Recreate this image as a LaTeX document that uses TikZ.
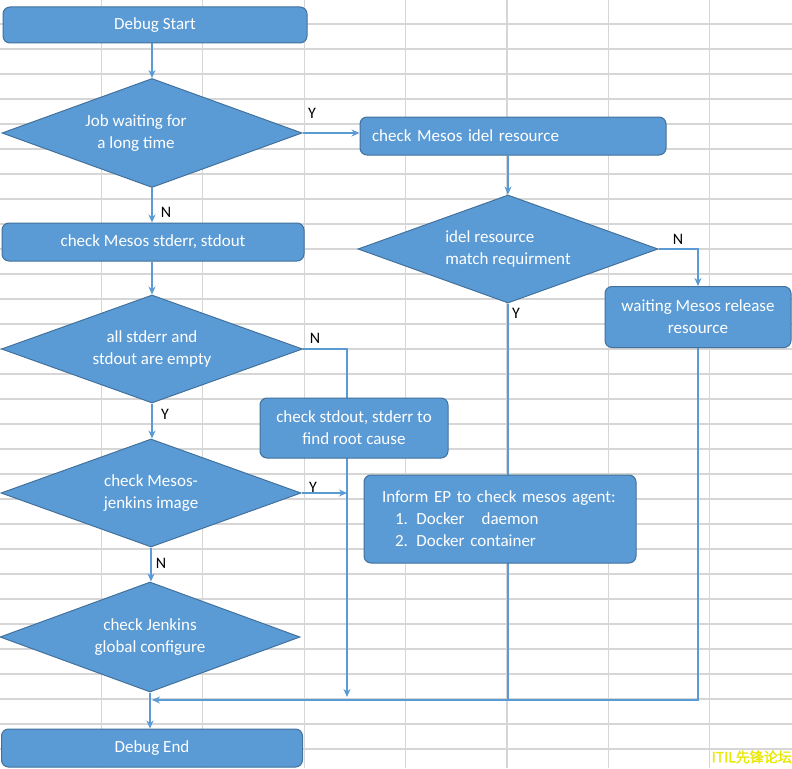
\documentclass[tikz,border=0pt]{standalone}
\usepackage{fontspec}
\setmainfont{Carlito}
\newfontfamily\cjkfont[FakeBold=1.5]{Noto Sans CJK SC}
\usetikzlibrary{shapes.geometric,arrows.meta}
\definecolor{boxfill}{HTML}{5B9BD5}
\definecolor{boxline}{HTML}{41719C}
\definecolor{connc}{HTML}{5B9BD5}
\definecolor{gridc}{HTML}{D6D6D6}
\definecolor{wmyellow}{HTML}{E8E800}
\pgfdeclarelayer{gridl}
\pgfdeclarelayer{connl}
\pgfsetlayers{gridl,connl,main}
\begin{document}
\begin{tikzpicture}[x=1pt,y=-1pt,
  every node/.style={font=\fontsize{17}{22}\selectfont},
  proc/.style={draw=boxline, fill=boxfill, line width=1pt, rounded corners=7pt, text=white, align=center, inner sep=0pt},
  decision/.style={diamond, draw=boxline, fill=boxfill, line width=1pt, text=white, align=center, inner sep=0pt, aspect=2.78},
  dtext/.style={text=white, align=center, inner sep=0pt},
  conn/.style={draw=connc, line width=1.3pt},
  arr/.style={conn, -{Stealth[length=8pt,width=7pt]}},
  yn/.style={text=black, font=\fontsize{16}{19}\selectfont, inner sep=0pt},
  gridline/.style={draw=gridc, line width=1.3pt}
]
\useasboundingbox (0,0) rectangle (792,768);
\begin{pgfonlayer}{gridl}
\fill[white] (0,0) rectangle (792,768);
\foreach \gy in {24,49,...,749} \draw[gridline] (0,\gy) -- (792,\gy);
\foreach \k in {1,...,7} \draw[gridline] ({101.4*\k},0) -- ({101.4*\k},768);
\end{pgfonlayer}

% nodes
\node[proc, minimum width=304pt, minimum height=36pt] (start) at (155,25) {Debug Start};
\node[decision, minimum width=300pt, minimum height=109pt] (d1) at (152,133) {};
\node[dtext] (d1t) at (136,133) {Job waiting for\\a long time};
\node[proc, minimum width=306pt, minimum height=38pt, text width=282pt, align=left] (idle) at (513,136) {check Mesos idel resource};
\node[proc, minimum width=302pt, minimum height=38pt] (logs) at (153,242) {check Mesos stderr, stdout};
\node[decision, minimum width=300pt, minimum height=108pt, align=left] (d2) at (508,249) {idel resource\\match requirment};
\node[proc, minimum width=186pt, minimum height=61pt] (wait) at (698,317) {waiting Mesos release\\resource};
\node[decision, minimum width=301pt, minimum height=108pt] (d3) at (152,349) {all stderr and\\stdout are empty};
\node[proc, minimum width=188pt, minimum height=60pt] (root) at (354,428) {check stdout, stderr to\\find root cause};
\node[decision, minimum width=300pt, minimum height=108pt] (d4) at (151,493) {check Mesos-\\jenkins image};
\node[proc, minimum width=272pt, minimum height=88pt, text width=236pt, align=left] (inform) at (500,519) {Inform EP to check mesos agent:\\\hspace*{13pt}1. Docker\ \ \ daemon\\\hspace*{13pt}2. Docker container};
\node[decision, minimum width=300pt, minimum height=110pt] (d5) at (150,637) {check Jenkins\\global configure};
\node[proc, minimum width=301pt, minimum height=38pt] (end) at (152,748) {Debug End};

\coordinate (nend) at (347,697);
\coordinate (bus) at (152,700);

% connectors
\begin{pgfonlayer}{connl}
\draw[arr] (d1.north |- start.south) -- (d1.north);
\draw[arr] (d1.east) -- (d1.east -| idle.west);
\draw[arr] (d1.south) -- (d1.south |- logs.north);
\draw[arr] (d3.north |- logs.south) -- (d3.north);
\draw[arr] (d2.north |- idle.south) -- (d2.north);
\draw[arr] (d2.east) -| (wait.north);
\draw[arr] (d3.south) -- (d3.south |- d4.north);
\draw[arr] (d3.east) -| (nend);
\draw[arr] (d4.east) -- (d4.east -| nend);
\draw[arr] (d4.south) -- (d4.south |- d5.north);
\draw[arr] (d5.south) -- (d5.south |- end.north);
\draw[conn] (d2.south) -- (d2.south |- bus);
\draw[arr] (wait.south) |- (bus);
\end{pgfonlayer}

% labels
\node[yn] (y1) at (312,113) {Y};
\node[yn] (n1) at (166,212) {N};
\node[yn] (n2) at (678,239) {N};
\node[yn] (y2) at (516,313) {Y};
\node[yn] (n3) at (315,338) {N};
\node[yn] (y3) at (165,414) {Y};
\node[yn] (y4) at (313,487) {Y};
\node[yn] (n4) at (161,563) {N};

\node[anchor=east, inner sep=0pt, text=wmyellow, font=\fontsize{14}{14}\selectfont\cjkfont] (wm) at (792,757) {ITIL先锋论坛};
\end{tikzpicture}
\end{document}
